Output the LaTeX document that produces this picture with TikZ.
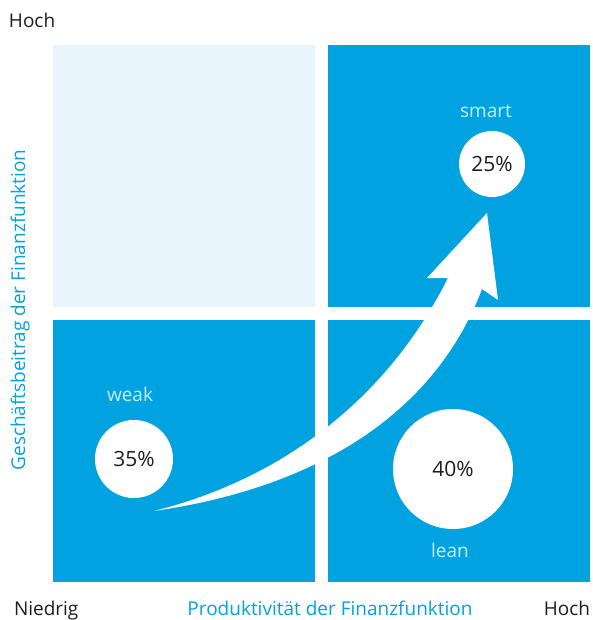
\documentclass[tikz,border=0pt]{standalone}
\usepackage{fontspec}
\setmainfont{Open Sans}
\usetikzlibrary{positioning}

\definecolor{boxblue}{RGB}{0,163,224}
\definecolor{paleblue}{RGB}{232,245,253}
\definecolor{taglight}{RGB}{204,236,250}
\definecolor{darktext}{RGB}{30,30,30}

\begin{document}
\begin{tikzpicture}[x=1pt,y=-1pt,
    every node/.style={inner sep=0pt,outer sep=0pt},
    quad/.style={anchor=north west,minimum width=262pt,minimum height=262pt,fill=boxblue},
    bubble/.style={circle,fill=white,text=darktext,font=\fontsize{21}{25}\selectfont},
    tag/.style={text=taglight},
    axis/.style={text=boxblue},
    font=\fontsize{19}{23}\selectfont]
            \useasboundingbox (0,0) rectangle (592,620);
            \fill[white] (0,0) rectangle (592,620);
            % the four fields
            \node[quad,fill=paleblue] (lowhigh) at (53,45) {};
            \node[quad] (highhigh) at (328,45) {};
            \node[quad] (lowlow) at (53,320) {};
            \node[quad] (highlow) at (328,320) {};

            % axes
            \node[anchor=base west,text=darktext] (yhoch) at (9,28) {Hoch};
            \node[anchor=base west,text=darktext] (xniedrig) at (14,615) {Niedrig};
            \node[anchor=base east,text=darktext] (xhoch) at (590,615) {Hoch};
            \node[axis,anchor=base] (xlabel) at (330,615) {Produktivität der Finanzfunktion};
            \node[axis,anchor=base,rotate=90] (ylabel) at (25,310) {Geschäftsbeitrag der Finanzfunktion};

            % growth arrow
            \coordinate (start) at (154,511);
            \coordinate (tip) at (487,213);
            \fill[white] (start) .. controls (300,490) and (430,425) .. (482,289)
                -- (498,300) -- (tip) -- (427,278) -- (448,278)
                .. controls (393,388) and (294,476) .. (start) -- cycle;

            % shares
            \node[bubble,minimum size=78pt] (weakc) at (134,459) {35\%};
            \node[bubble,minimum size=66pt] (smartc) at (492,164) {25\%};
            \node[bubble,minimum size=120pt] (leanc) at (453,469) {40\%};
            \node[tag,above=18pt of weakc,xshift=-4pt] (weak) {weak};
            \node[tag,above=13pt of smartc,xshift=-6pt] (smart) {smart};
            \node[tag,below=14pt of leanc,xshift=-3pt] (lean) {lean};
\end{tikzpicture}
\end{document}
